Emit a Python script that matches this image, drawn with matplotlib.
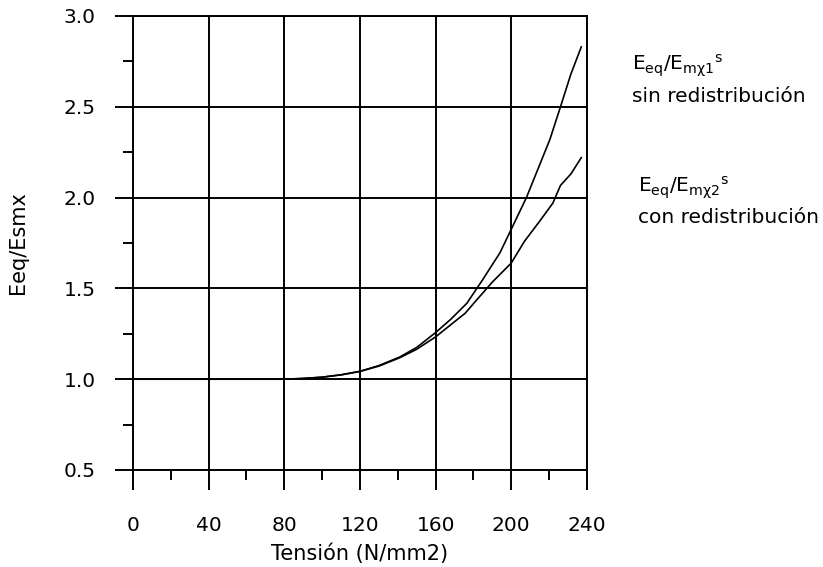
import matplotlib
matplotlib.use('Agg')
import matplotlib.pyplot as plt
from matplotlib.ticker import MultipleLocator

plt.rcParams.update({'font.family': 'DejaVu Sans', 'font.size': 14.5})

# Stress (N/mm2) and Eeq/Esmx ratio, without and with redistribution
tension_sin = [0, 80, 90, 100, 110, 120, 130, 141, 150, 160, 168, 176.5,
               185, 194, 201, 208, 214, 220.4, 226, 231.5, 237]
ratio_sin = [1.0, 1.0, 1.004, 1.011, 1.024, 1.043, 1.075, 1.122, 1.175, 1.257,
             1.33, 1.418, 1.55, 1.696, 1.848, 2.0, 2.155, 2.32, 2.50, 2.68, 2.83]

tension_con = [0, 80, 90, 100, 110, 120, 130, 141, 150, 160, 168, 175.6,
               182, 190, 200, 207, 215, 222, 226, 231.5, 237]
ratio_con = [1.0, 1.0, 1.004, 1.011, 1.024, 1.043, 1.072, 1.118, 1.165, 1.233,
             1.30, 1.363, 1.44, 1.535, 1.64, 1.76, 1.87, 1.97, 2.067, 2.13, 2.22]

x_ticks = [0, 40, 80, 120, 160, 200, 240]
y_ticks = [0.5, 1.0, 1.5, 2.0, 2.5, 3.0]


def main():
    fig = plt.figure(figsize=(8.23, 5.67), dpi=100)
    ax = fig.add_axes([0.1616, 0.1711, 0.5516, 0.8007])

    ax.plot(tension_sin, ratio_sin, color='black', linewidth=1.2)
    ax.plot(tension_con, ratio_con, color='black', linewidth=1.2)

    ax.set_xlim(0, 240)
    ax.set_ylim(0.5, 3.0)
    ax.set_xticks(x_ticks)
    ax.set_yticks(y_ticks)
    ax.set_yticklabels([f'{v:.1f}' for v in y_ticks])
    ax.xaxis.set_minor_locator(MultipleLocator(20))
    ax.yaxis.set_minor_locator(MultipleLocator(0.25))

    ax.grid(True, which='major', color='black', linewidth=1.4)
    for s in ax.spines.values():
        s.set_linewidth(1.4)
    ax.tick_params(axis='x', which='major', direction='out', length=14.4, width=1.4, pad=19)
    ax.tick_params(axis='y', which='major', direction='out', length=13, width=1.4, pad=14)
    ax.tick_params(which='minor', direction='out', length=7.2, width=1.4)

    ax.set_xlabel('Tensión (N/mm2)', fontsize=15, va='top')
    ax.xaxis.set_label_coords(0.5, -0.161)
    ax.set_ylabel('Eeq/Esmx', fontsize=15)
    ax.yaxis.set_label_coords(-0.231, 0.5)

    fig.text(0.768, 0.8765, r'$\mathregular{E_{eq}/E_{m\chi1}{}^{s}}$', va='baseline')
    fig.text(0.768, 0.820, 'sin redistribución', va='baseline')
    fig.text(0.775, 0.6614, r'$\mathregular{E_{eq}/E_{m\chi2}{}^{s}}$', va='baseline')
    fig.text(0.775, 0.6067, 'con redistribución', va='baseline')

    fig.savefig('out.png', dpi=100)


if __name__ == '__main__':
    main()
